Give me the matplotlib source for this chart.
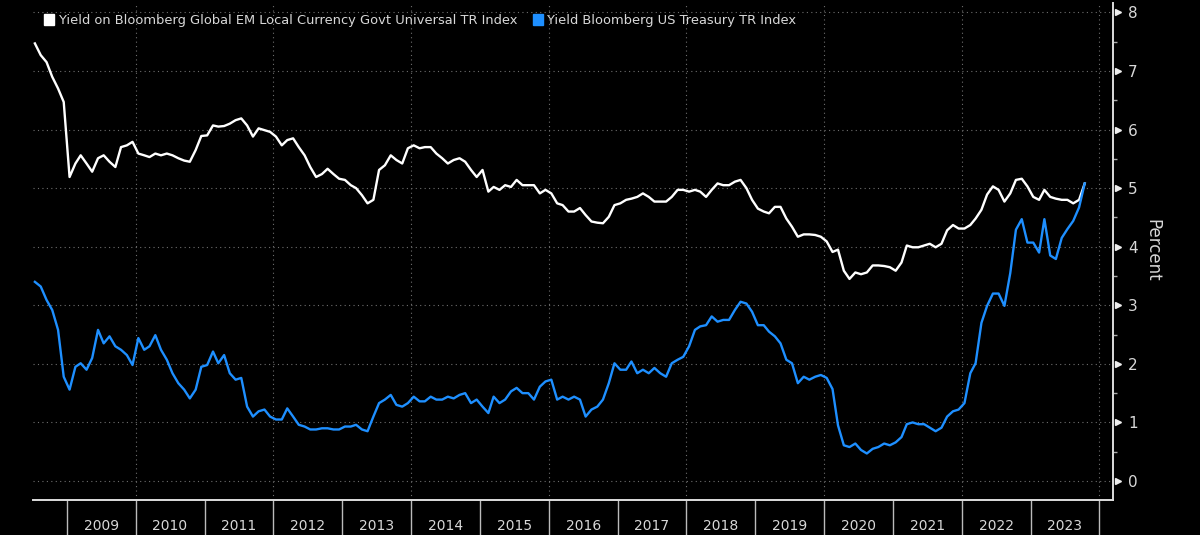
import matplotlib
matplotlib.use("Agg")
import matplotlib.pyplot as plt
import matplotlib.transforms as mtransforms
from matplotlib.patches import Patch
import pandas as pd

# ---- data (monthly readings, Jul 2008 .. Oct 2023) ----
start_month = "2008-07-01"
end_month = "2023-10-01"

em_yield = [
    7.47, 7.27, 7.15, 6.90, 6.70, 6.47, 5.19, 5.42, 5.56, 5.42, 5.28, 5.51,   # Jul08-Jun09
    5.56, 5.45, 5.36, 5.70, 5.73, 5.79, 5.59, 5.56, 5.53, 5.59, 5.56, 5.59,   # Jul09-Jun10
    5.56, 5.51, 5.47, 5.45, 5.65, 5.89, 5.90, 6.07, 6.05, 6.06, 6.10, 6.16,   # Jul10-Jun11
    6.19, 6.07, 5.88, 6.02, 5.99, 5.96, 5.88, 5.73, 5.82, 5.85, 5.70, 5.56,   # Jul11-Jun12
    5.36, 5.19, 5.24, 5.33, 5.24, 5.16, 5.14, 5.05, 5.00, 4.88, 4.74, 4.80,   # Jul12-Jun13
    5.31, 5.39, 5.56, 5.48, 5.42, 5.68, 5.73, 5.68, 5.70, 5.70, 5.59, 5.51,   # Jul13-Jun14
    5.42, 5.48, 5.51, 5.45, 5.31, 5.19, 5.31, 4.94, 5.02, 4.97, 5.05, 5.02,   # Jul14-Jun15
    5.14, 5.05, 5.05, 5.05, 4.91, 4.97, 4.91, 4.74, 4.71, 4.60, 4.60, 4.66,   # Jul15-Jun16
    4.54, 4.43, 4.41, 4.40, 4.51, 4.71, 4.74, 4.80, 4.82, 4.85, 4.91, 4.85,   # Jul16-Jun17
    4.77, 4.77, 4.77, 4.85, 4.97, 4.97, 4.94, 4.97, 4.94, 4.85, 4.97, 5.08,   # Jul17-Jun18
    5.05, 5.05, 5.11, 5.14, 5.00, 4.80, 4.65, 4.60, 4.57, 4.68, 4.68, 4.48,   # Jul18-Jun19
    4.34, 4.17, 4.21, 4.21, 4.20, 4.17, 4.09, 3.91, 3.95, 3.59, 3.45, 3.56,   # Jul19-Jun20
    3.53, 3.56, 3.68, 3.68, 3.67, 3.65, 3.59, 3.73, 4.02, 3.99, 3.99, 4.02,   # Jul20-Jun21
    4.05, 3.99, 4.05, 4.28, 4.37, 4.31, 4.31, 4.37, 4.48, 4.63, 4.89, 5.03,   # Jul21-Jun22
    4.97, 4.77, 4.91, 5.14, 5.16, 5.03, 4.85, 4.80, 4.97, 4.85, 4.82, 4.80,   # Jul22-Jun23
    4.80, 4.74, 4.80, 5.08,                                                   # Jul23-Oct23
]

ust_yield = [
    3.40, 3.32, 3.09, 2.92, 2.58, 1.78, 1.56, 1.95, 2.01, 1.90, 2.10, 2.58,   # Jul08-Jun09
    2.35, 2.47, 2.30, 2.24, 2.15, 1.98, 2.44, 2.24, 2.30, 2.49, 2.24, 2.07,   # Jul09-Jun10
    1.84, 1.67, 1.56, 1.41, 1.56, 1.95, 1.98, 2.21, 2.01, 2.15, 1.84, 1.73,   # Jul10-Jun11
    1.76, 1.27, 1.10, 1.19, 1.22, 1.10, 1.05, 1.05, 1.24, 1.10, 0.96, 0.93,   # Jul11-Jun12
    0.88, 0.88, 0.90, 0.90, 0.88, 0.88, 0.93, 0.93, 0.96, 0.88, 0.85, 1.10,   # Jul12-Jun13
    1.33, 1.39, 1.47, 1.30, 1.27, 1.33, 1.44, 1.36, 1.36, 1.44, 1.39, 1.39,   # Jul13-Jun14
    1.44, 1.41, 1.47, 1.50, 1.33, 1.39, 1.27, 1.16, 1.44, 1.33, 1.39, 1.53,   # Jul14-Jun15
    1.59, 1.50, 1.50, 1.39, 1.61, 1.70, 1.73, 1.39, 1.44, 1.39, 1.44, 1.39,   # Jul15-Jun16
    1.10, 1.22, 1.27, 1.39, 1.67, 2.01, 1.90, 1.90, 2.04, 1.84, 1.90, 1.84,   # Jul16-Jun17
    1.93, 1.84, 1.78, 2.01, 2.07, 2.12, 2.30, 2.58, 2.64, 2.66, 2.81, 2.72,   # Jul17-Jun18
    2.75, 2.75, 2.92, 3.06, 3.03, 2.89, 2.66, 2.66, 2.55, 2.47, 2.35, 2.07,   # Jul18-Jun19
    2.01, 1.67, 1.78, 1.73, 1.78, 1.81, 1.76, 1.57, 0.95, 0.61, 0.58, 0.64,   # Jul19-Jun20
    0.53, 0.47, 0.55, 0.58, 0.64, 0.61, 0.66, 0.75, 0.97, 1.00, 0.97, 0.97,   # Jul20-Jun21
    0.91, 0.85, 0.91, 1.10, 1.19, 1.22, 1.33, 1.84, 2.01, 2.70, 2.99, 3.20,   # Jul21-Jun22
    3.20, 2.99, 3.55, 4.29, 4.47, 4.07, 4.07, 3.90, 4.47, 3.85, 3.79, 4.15,   # Jul22-Jun23
    4.30, 4.44, 4.67, 5.08,                                                   # Jul23-Oct23
]

series_labels = [
    "Yield on Bloomberg Global EM Local Currency Govt Universal TR Index",
    "Yield Bloomberg US Treasury TR Index",
]
series_colors = ["#ffffff", "#1E8FFF"]

year_labels = [str(y) for y in range(2009, 2024)]
year_bounds = list(range(2009, 2025))
grid_years = list(range(2010, 2025, 2))
y_ticks = [0, 1, 2, 3, 4, 5, 6, 7, 8]
y_minor = [0.5, 1.5, 2.5, 3.5, 4.5, 5.5, 6.5, 7.5]
y_label = "Percent"

dates = pd.date_range(start_month, end_month, freq="MS") + pd.Timedelta(days=14)

# ---- figure ----
txt_color = "#d8d8d8"
fig = plt.figure(figsize=(12, 5.35), dpi=100, facecolor="black")
ax = fig.add_axes([33 / 1200, 1 - 500 / 535, (1112.8 - 33) / 1200, (500 - 3) / 535])
ax.set_facecolor("black")

ax.plot(dates, em_yield, color=series_colors[0], lw=1.7, zorder=3)
ax.plot(dates, ust_yield, color=series_colors[1], lw=1.7, zorder=3)

ax.set_xlim(pd.Timestamp("2008-07-05"), pd.Timestamp("2024-03-12"))
ax.set_ylim(-0.324, 8.16)

# spines
for s in ["top", "left"]:
    ax.spines[s].set_visible(False)
ax.spines["bottom"].set_color("#dddddd")
ax.spines["bottom"].set_linewidth(1.4)
ax.spines["right"].set_color("#dddddd")
ax.spines["right"].set_linewidth(1.4)

# horizontal grid
for v in y_ticks:
    ax.axhline(v, color="#6e6e6e", lw=0.8, ls=(0, (1, 3)), zorder=1)
# vertical grid every two years
for yv in grid_years:
    ax.axvline(pd.Timestamp(f"{yv}-01-01"), color="#6e6e6e", lw=0.8, ls=(0, (1, 3)), zorder=1)

# x axis: year separators (major) + centered labels (minor)
ax.set_xticks([pd.Timestamp(f"{y}-01-01") for y in year_bounds])
ax.xaxis.set_major_formatter(plt.NullFormatter())
ax.set_xticks([pd.Timestamp(f"{y}-07-02") for y in range(2009, 2024)], minor=True)
ax.set_xticklabels(year_labels, minor=True)
ax.tick_params(axis="x", which="major", direction="out", length=26, width=1.0,
               color="#bbbbbb", labelbottom=False)
ax.tick_params(axis="x", which="minor", length=0, pad=14, labelsize=10,
               labelcolor=txt_color)

# y axis on right
ax.yaxis.tick_right()
ax.set_yticks(y_ticks)
ax.set_yticks(y_minor, minor=True)
ax.tick_params(axis="y", which="major", length=0, pad=11, labelsize=11,
               labelcolor=txt_color)
ax.tick_params(axis="y", which="minor", direction="out", length=3, width=1,
               color="#aaaaaa")
# triangle tick markers
trans = mtransforms.blended_transform_factory(ax.transAxes, ax.transData)
trans = trans + mtransforms.ScaledTranslation(5 / 100, 0, fig.dpi_scale_trans)
ax.plot([1.0] * len(y_ticks), y_ticks, ls="none", marker=">", ms=5,
        color="#eeeeee", transform=trans, clip_on=False)

fig.text(1152 / 1200, 1 - 250 / 535, y_label, rotation=270, ha="center", va="center",
         fontsize=12, color=txt_color)

# legend
handles = [Patch(facecolor=c, edgecolor=c) for c in series_colors]
leg = ax.legend(handles, series_labels, loc="upper left", ncol=2, frameon=False,
                bbox_to_anchor=(0.002, 0.997), handlelength=0.75, handleheight=1.0,
                handletextpad=0.35, columnspacing=1.2, fontsize=9.4, borderaxespad=0.3)
for t in leg.get_texts():
    t.set_color(txt_color)

fig.savefig("out.png", dpi=100, facecolor="black")
